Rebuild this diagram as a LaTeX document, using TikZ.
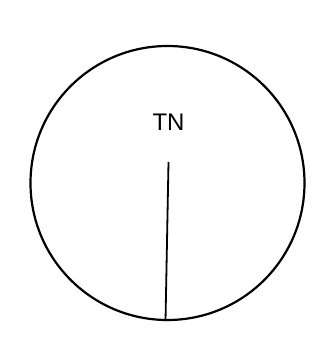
\documentclass[tikz,border=0pt]{standalone}
\usepackage{fontspec}
\setmainfont{Liberation Sans}

\begin{document}
\begin{tikzpicture}[
    x=1pt, y=-1pt,
    dial/.style={draw, circle, line width=2.2pt, minimum size=274pt, inner sep=0pt},
    label/.style={font=\fontsize{24}{27}\selectfont, inner sep=0pt},
    hand/.style={line width=1.8pt}
  ]
    \useasboundingbox (0,0) rectangle (324,345);
    \node[dial] (dial) at (167.5,183) {};
    \node[label] (tn) at (168.5,122) {TN};
    \coordinate (handtop) at (168.5,162);
    \draw[hand] (handtop) -- ([xshift=-2pt]dial.south);
  \end{tikzpicture}
\end{document}
